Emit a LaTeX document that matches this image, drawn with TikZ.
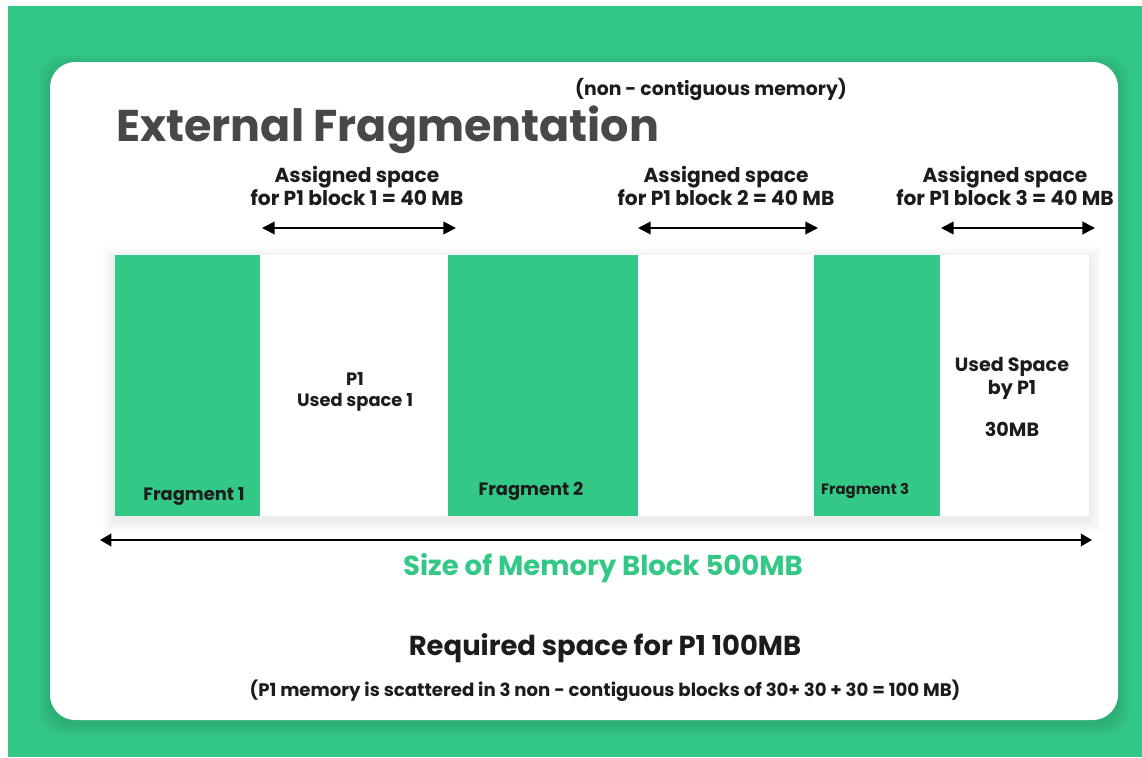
\documentclass[tikz,border=0pt]{standalone}
\usepackage{fontspec}
\setmainfont{Poppins}
\usetikzlibrary{arrows.meta}
\definecolor{gfg}{RGB}{52,200,135}
\definecolor{titlegrey}{RGB}{72,72,72}
\definecolor{txt}{RGB}{28,28,28}
\tikzset{
  lbl/.style={font=\bfseries\fontsize{14.4}{15.8}\selectfont, align=center, text=txt},
  seglbl/.style={font=\bfseries\fontsize{12.7}{15}\selectfont, align=center, text=txt},
  dimarrow/.style={{Triangle[length=9pt,width=9pt]}-{Triangle[length=9pt,width=9pt]}, line width=1.3pt},
  softshadow/.style={fill=black, opacity=0.018}
}
\begin{document}
\begin{tikzpicture}[x=0.025cm,y=-0.025cm]
\useasboundingbox (0,0) rectangle (1142,757);
\fill[white] (0,0) rectangle (1142,757);
\fill[gfg] (8,6) rectangle (1142,757);
\foreach \s in {2,4,...,12}
  \fill[softshadow, rounded corners=18pt] (50-\s,62-\s+4) rectangle (1118+\s,720+\s+4);
\fill[white, rounded corners=18pt] (50,62) rectangle (1118,720);

% title
\draw(116,130) node [anchor=west, inner sep=0pt, text=titlegrey, font=\bfseries\fontsize{31.6}{36}\selectfont] (title) {External Fragmentation};
\draw(711,89) node [lbl, font=\bfseries\fontsize{13.4}{16}\selectfont] (noncont) {(non - contiguous memory)};

% memory strip
\foreach \s in {2,4,...,12}
  \fill[softshadow, opacity=0.012] (115-\s,255-\s+4) rectangle (1089+\s,516+\s+4);
\fill[white] (115,255) rectangle (1089,516);
\fill[gfg] (115,255) rectangle (260,516);
\fill[gfg] (448,255) rectangle (638,516);
\fill[gfg] (814,255) rectangle (940,516);

\draw(194,496) node [seglbl] (frag1) {Fragment 1};
\draw(531,491) node [seglbl] (frag2) {Fragment 2};
\draw(865,491) node [seglbl, font=\bfseries\fontsize{10.6}{12}\selectfont] (frag3) {Fragment 3};
\draw(355,392) node [seglbl] (used1) {P1\\Used space 1};
\draw(1012,397) node [seglbl, font=\bfseries\fontsize{13.6}{16.4}\selectfont] (used3) {Used Space\\by P1\\[13pt]30MB};

% assigned blocks
\draw(357,186) node [lbl] (asg1) {Assigned space\\for P1 block 1 = 40 MB};
\draw(726,186) node [lbl] (asg2) {Assigned space\\for P1 block 2 = 40 MB};
\draw(1005,186) node [lbl] (asg3) {Assigned space\\for P1 block 3 = 40 MB};

\coordinate (a1l) at (262,228);
\coordinate (a1r) at (456,228);
\coordinate (a2l) at (638,228);
\coordinate (a2r) at (818,228);
\coordinate (a3l) at (941,228);
\coordinate (a3r) at (1095,228);
\draw[dimarrow] (a1l) -- (a1r);
\draw[dimarrow] (a2l) -- (a2r);
\draw[dimarrow] (a3l) -- (a3r);

% total size
\coordinate (totl) at (100,540);
\coordinate (totr) at (1092,540);
\draw[{Triangle[length=8pt,width=9pt]}-{Triangle[length=8pt,width=9pt]}, line width=1.3pt] (totl) -- (totr);
\draw(603,568) node [text=gfg, font=\bfseries\fontsize{19.6}{22}\selectfont] (size) {Size of Memory Block 500MB};

\draw(605,648) node [text=txt, font=\bfseries\fontsize{19.5}{22}\selectfont] (req) {Required space for P1 100MB};
\draw(605,691) node [text=txt, font=\bfseries\fontsize{12.9}{15}\selectfont] (note) {(P1 memory is scattered in 3 non - contiguous blocks of 30+ 30 + 30 = 100 MB)};
\end{tikzpicture}
\end{document}
